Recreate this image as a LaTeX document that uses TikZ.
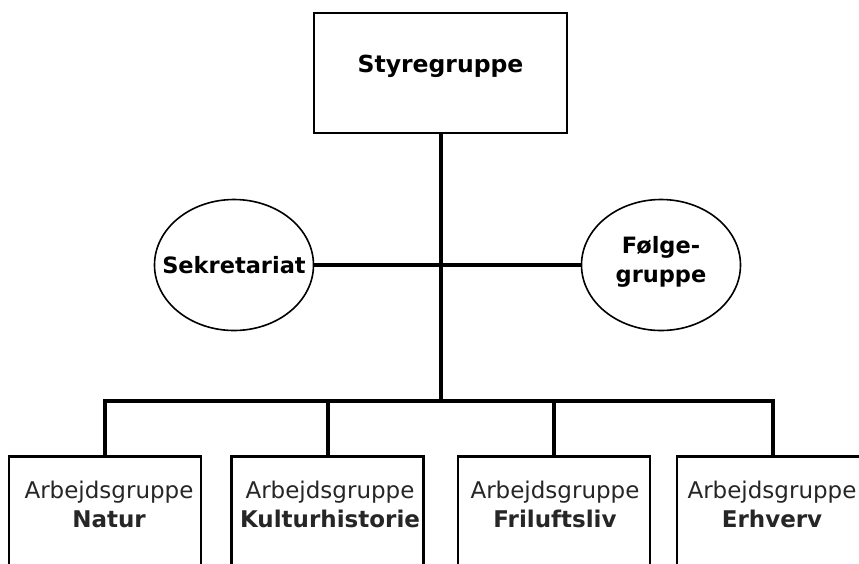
\documentclass[tikz,border=0pt]{standalone}
\usepackage{fontspec}
\setmainfont{DejaVu Sans}
\usetikzlibrary{shapes.geometric,calc}
\begin{document}
\begin{tikzpicture}[x=1pt,y=-1pt,
  topbox/.style={draw=black, line width=2.8pt, minimum width=253pt, minimum height=120pt, inner sep=0pt},
  grpbox/.style={draw=black, line width=2.6pt, minimum width=192pt, minimum height=130pt, anchor=north, inner sep=0pt},
  oval/.style={ellipse, draw=black, line width=1.6pt, minimum width=159pt, minimum height=131pt, inner sep=0pt},
  ovaltxt/.style={inner sep=0pt, align=center, font=\bfseries\fontsize{22.5}{29}\selectfont},
  conn/.style={line width=4pt, draw=black, line join=miter},
  bigtxt/.style={font=\bfseries\fontsize{23.5}{29}\selectfont, inner sep=0pt},
  grptxt/.style={anchor=north, inner sep=0pt, align=center, font=\fontsize{23}{29}\selectfont, text=black!85}
]
\useasboundingbox (0,0) rectangle (859,563);
\clip (0,0) rectangle (859,563);
\fill[white] (0,0) rectangle (859,563);

% top box
\node[topbox] (styre) at (440.5,73) {};
\node[bigtxt, anchor=base] (styretxt) at (440.5,72) {Styregruppe};

% ellipses
\node[oval] (sek) at (234,265) {};
\node[ovaltxt] (sektxt) at (234,265) {Sekretariat};
\node[oval] (folge) at (661,265) {};
\node[ovaltxt] (folgetxt) at (661,262) {Følge-\\gruppe};

% bottom boxes
\node[grpbox] (n1) at (105,455) {};
\node[grpbox] (n2) at (327.5,455) {};
\node[grpbox] (n3) at (554,455) {};
\node[grpbox] (n4) at (773,455) {};

\node[grptxt] (t1) at (109,481) {Arbejdsgruppe\\\textbf{Natur}};
\node[grptxt] (t2) at (330,481) {Arbejdsgruppe\\\textbf{Kulturhistorie}};
\node[grptxt] (t3) at (555,481) {Arbejdsgruppe\\\textbf{Friluftsliv}};
\node[grptxt] (t4) at (772,481) {Arbejdsgruppe\\\textbf{Erhverv}};

% connectors
\coordinate (bar) at (440.5,401);
\draw[conn] (styre.south) -- (bar);
\draw[conn] (sek.east) -- (folge.west);
\draw[conn] (n1.north) |- (bar) -| (n4.north);
\draw[conn] (n2.north) -- (n2.north |- bar);
\draw[conn] (n3.north) -- (n3.north |- bar);
\end{tikzpicture}
\end{document}
